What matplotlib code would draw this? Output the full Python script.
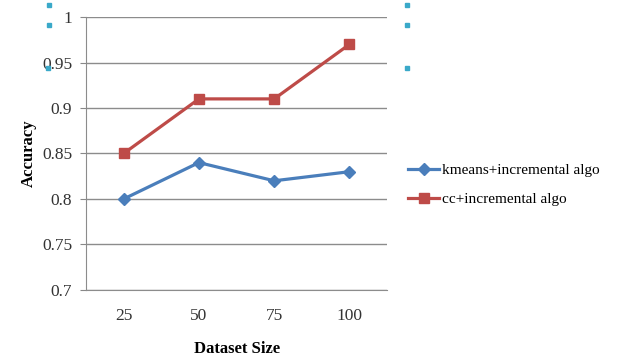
import matplotlib.pyplot as plt
import numpy as np

plt.rcParams["font.family"] = ["Liberation Serif", "DejaVu Serif"]

dataset_sizes = ["25", "50", "75", "100"]
kmeans_acc = [0.80, 0.84, 0.82, 0.83]
cc_acc = [0.85, 0.91, 0.91, 0.97]
y_ticks = [0.7, 0.75, 0.8, 0.85, 0.9, 0.95, 1]
y_tick_labels = ["0.7", "0.75", "0.8", "0.85", "0.9", "0.95", "1"]

BLUE = "#4a7ebb"
RED = "#be4b48"

fig = plt.figure(figsize=(6.3, 3.58), dpi=100)
ax = fig.add_axes([0.1365, 0.19, 0.478, 0.7625])

x = np.arange(1, len(dataset_sizes) + 1)
ax.plot(x, kmeans_acc, color=BLUE, lw=2.3, marker="D", ms=6,
        label="kmeans+incremental algo")
ax.plot(x, cc_acc, color=RED, lw=2.3, marker="s", ms=7,
        label="cc+incremental algo")

ax.set_xlim(0.5, 4.5)
ax.set_ylim(0.7, 1.0)
ax.set_xticks(x)
ax.set_xticklabels(dataset_sizes)
ax.set_yticks(y_ticks)
ax.set_yticklabels(y_tick_labels)
ax.tick_params(axis="x", length=0, pad=13, labelsize=12.5, colors="#333333")
ax.tick_params(axis="y", length=4, width=0.8, color="#888888", pad=6,
               labelsize=12.5, labelcolor="#333333")
ax.grid(axis="y", color="#8c8c8c", lw=1)
ax.set_axisbelow(True)
for side in ("top", "right"):
    ax.spines[side].set_visible(False)
ax.spines["left"].set_color("#8c8c8c")
ax.spines["bottom"].set_color("#8c8c8c")

ax.set_xlabel("Dataset Size", fontsize=12, fontweight="bold", labelpad=12)
ax.set_ylabel("Accuracy", fontsize=12, fontweight="bold", labelpad=4)

ax.legend(loc="center left", bbox_to_anchor=(1.025, 0.385), frameon=False,
          fontsize=11, handlelength=2.0, handletextpad=0.2, labelspacing=1.0)

# small selection handles around the chart area
for hx, hy in [(0.075, 0.981), (0.075, 0.925), (0.073, 0.805),
               (0.643, 0.981), (0.643, 0.925), (0.643, 0.805)]:
    fig.patches.append(plt.Rectangle((hx, hy), 0.006, 0.01, transform=fig.transFigure,
                                     color="#3aa9c9", zorder=5))

fig.savefig("out.png", dpi=100)
